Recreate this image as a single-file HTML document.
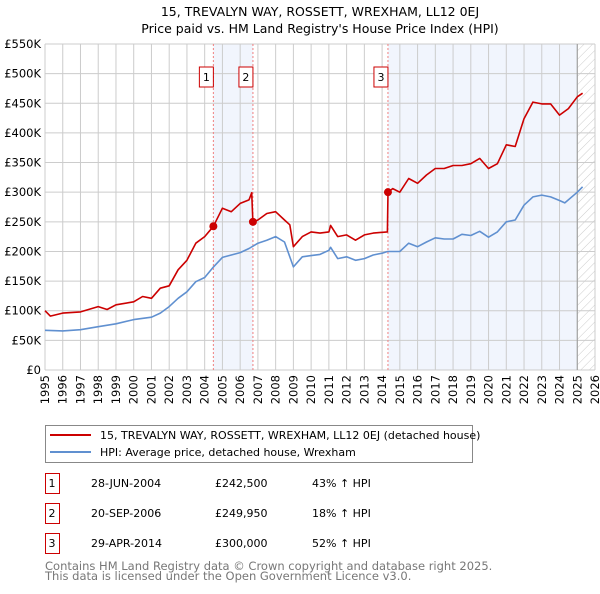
<!DOCTYPE html>
<html><head><meta charset="utf-8"><style>
body{margin:0;background:#fff;font-family:"DejaVu Sans","Liberation Sans",sans-serif;}
svg text{font-family:"DejaVu Sans","Liberation Sans",sans-serif;}
</style></head><body>
<svg id="c" width="600" height="590" viewBox="0 0 600 590" xmlns="http://www.w3.org/2000/svg">
<defs><pattern id="hatch" width="6" height="6" patternUnits="userSpaceOnUse" patternTransform="rotate(45)"><line x1="0" y1="0" x2="0" y2="6" stroke="#ccc" stroke-width="1"/></pattern></defs>
<text x="320" y="16" text-anchor="middle" font-size="12.5" fill="#000">15, TREVALYN WAY, ROSSETT, WREXHAM, LL12 0EJ</text>
<text x="320" y="33" text-anchor="middle" font-size="12.5" fill="#000">Price paid vs. HM Land Registry's House Price Index (HPI)</text>
<g id="plot"></g>
<g>
<rect x="45.5" y="425.5" width="427" height="37" fill="#fff" stroke="#888"/>
<line x1="50" y1="435" x2="91" y2="435" stroke="#cc0000" stroke-width="2"/>
<text x="100" y="439" font-size="11">15, TREVALYN WAY, ROSSETT, WREXHAM, LL12 0EJ (detached house)</text>
<line x1="50" y1="452" x2="91" y2="452" stroke="#6090d0" stroke-width="2"/>
<text x="100" y="456" font-size="11">HPI: Average price, detached house, Wrexham</text>
</g>
<g id="table" font-size="11"></g>
<text x="45" y="570" font-size="11.5" fill="#777">Contains HM Land Registry data © Crown copyright and database right 2025.</text>
<text x="45" y="580" font-size="11.5" fill="#777">This data is licensed under the Open Government Licence v3.0.</text>
</svg>
<script>
const hpiYears=[1995,1996,1997,1998,1999,2000,2001,2001.5,2002,2002.5,2003,2003.5,2004,2004.5,2005,2005.5,2006,2006.5,2007,2007.5,2008,2008.5,2009,2009.5,2010,2010.5,2011,2011.1,2011.5,2012,2012.5,2013,2013.5,2014,2014.3,2015,2015.5,2016,2016.5,2017,2017.5,2018,2018.5,2019,2019.5,2020,2020.5,2021,2021.5,2022,2022.5,2023,2023.5,2024,2024.3,2025,2025.3];
const hpiValues=[67,66,68,73,78,85,89,96,107,121,132,149,156,174,190,194,198,205,214,219,225,216,174,191,193,195,202,207,188,191,185,188,194,197,200,200,214,208,216,223,221,221,229,227,234,224,233,250,253,278,292,295,292,286,282,300,309];
const priceYears=[1995,1995.3,1996,1997,1998,1998.5,1999,2000,2000.5,2001,2001.5,2002,2002.5,2003,2003.5,2004,2004.49,2005,2005.5,2006,2006.5,2006.65,2006.72,2007,2007.5,2008,2008.5,2008.8,2009,2009.5,2010,2010.5,2011,2011.1,2011.5,2012,2012.5,2013,2013.5,2014.3,2014.33,2014.6,2015,2015.5,2016,2016.5,2017,2017.5,2018,2018.5,2019,2019.5,2020,2020.5,2021,2021.5,2022,2022.5,2023,2023.5,2024,2024.5,2025,2025.3];
const priceValues=[100,91,96,98,107,102,110,115,124,121,138,142,169,185,214,225,242.5,273,267,281,287,299,249.95,253,264,267,253,245,208,225,233,231,233,244,225,228,219,228,231,233,300,306,300,323,315,329,340,340,345,345,348,357,340,348,380,377,424,452,449,449,430,441,461,467];
const saleLabels=["1","2","3"];
const saleYears=[2004.49,2006.72,2014.33];
const saleValues=[242.5,249.95,300];
const saleDates=["28-JUN-2004","20-SEP-2006","29-APR-2014"];
const salePrices=["£242,500","£249,950","£300,000"];
const saleDeltas=["43% ↑ HPI","18% ↑ HPI","52% ↑ HPI"];
const yTicks=[0,50,100,150,200,250,300,350,400,450,500,550];
const yTickLabels=["£0","£50K","£100K","£150K","£200K","£250K","£300K","£350K","£400K","£450K","£500K","£550K"];
const xTicks=[1995,1996,1997,1998,1999,2000,2001,2002,2003,2004,2005,2006,2007,2008,2009,2010,2011,2012,2013,2014,2015,2016,2017,2018,2019,2020,2021,2022,2023,2024,2025,2026];

const NS="http://www.w3.org/2000/svg";
const X0=45,X1=595,Y0=370,Y1=44;
const xs=y=>X0+(y-1995)/(2026-1995)*(X1-X0);
const ys=v=>Y0-v/550*(Y0-Y1);
const plot=document.getElementById('plot');
function mk(tag,attrs,parent){const e=document.createElementNS(NS,tag);for(const k in attrs)e.setAttribute(k,attrs[k]);(parent||plot).appendChild(e);return e;}
let b1=mk('rect',{x:xs(saleYears[0]),y:Y1,width:xs(saleYears[1])-xs(saleYears[0]),height:Y0-Y1,fill:'#eef3fc',opacity:0.8});


let b2=mk('rect',{x:xs(saleYears[2]),y:Y1,width:xs(2025.0)-xs(saleYears[2]),height:Y0-Y1,fill:'#eef3fc',opacity:0.8});


let ht=mk('rect',{x:xs(2025.0),y:Y1,width:X1-xs(2025.0),height:Y0-Y1,fill:'url(#hatch)'});


yTicks.forEach((v,i)=>{
 let l=mk('line',{x1:X0,x2:X1,y1:ys(v),y2:ys(v),stroke:'#ccc','stroke-width':1});
 
 
 let t=mk('text',{x:X0-4,y:ys(v)+4,'text-anchor':'end','font-size':11.5});
 t.textContent=yTickLabels[i];
 
 
});
xTicks.forEach(y=>{
 let l=mk('line',{x1:xs(y),x2:xs(y),y1:Y1,y2:Y0,stroke:'#ccc','stroke-width':1});
 
 
 const tx=xs(y)+4, ty=Y0+5;
 let t=mk('text',{x:tx,y:ty,'text-anchor':'end','font-size':11.5,transform:'rotate(-90 '+tx+' '+ty+')'});
 t.textContent=y;
 
 
});
let ax=mk('line',{x1:xs(2025.0),x2:xs(2025.0),y1:Y1,y2:Y0,stroke:'#999','stroke-width':1});


saleYears.forEach((y,i)=>{
 let l=mk('line',{x1:xs(y),x2:xs(y),y1:Y1,y2:Y0,stroke:'#f08080','stroke-width':1,'stroke-dasharray':'2,2'});
 
 
 let r=mk('rect',{x:xs(y)-14,y:67,width:14,height:20,fill:'#fff',stroke:'#cc0000'});
 
 
 let t=mk('text',{x:xs(y)-7,y:81,'text-anchor':'middle','font-size':11});
 t.textContent=saleLabels[i];
 
 
});
function path(xv,yv,color,name){
 const d=xv.map((x,i)=>(i?'L':'M')+xs(x).toFixed(1)+','+ys(yv[i]).toFixed(1)).join('');
 let p=mk('path',{d:d,fill:'none',stroke:color,'stroke-width':1.6,'stroke-linejoin':'round'});
 
 
}
path(hpiYears,hpiValues,'#6090d0','hpi-line');
path(priceYears,priceValues,'#cc0000','price-line');
saleYears.forEach((y,i)=>{
 let c=mk('circle',{cx:xs(y),cy:ys(saleValues[i]),r:4,fill:'#cc0000'});
 
 
});
const tb=document.getElementById('table');
saleLabels.forEach((s,i)=>{
 const cy=483+i*30;
 let r=mk('rect',{x:45.5,y:cy-9.5,width:14,height:20,fill:'#fff',stroke:'#cc0000'},tb);
 
 
 const cells=[[52,s,'middle','table-marker'],[91,saleDates[i],'start','sale-date'],[215,salePrices[i],'start','sale-price'],[312,saleDeltas[i],'start','sale-hpi-delta']];
 cells.forEach(c=>{
  let t=mk('text',{x:c[0],y:cy+4,'text-anchor':c[2],'font-size':11},tb);
  t.textContent=c[1];
  
  
 });
});
</script>
</body></html>
